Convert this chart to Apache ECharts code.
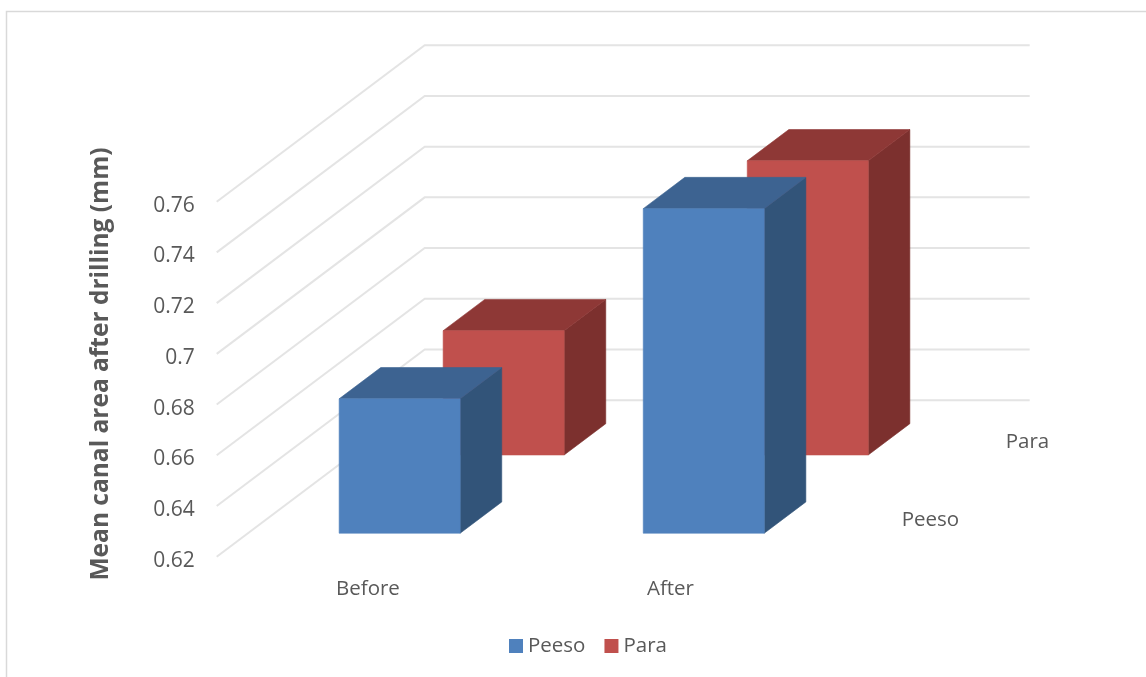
<!DOCTYPE html>
<html>
<head>
<meta charset="utf-8">
<style>html,body{margin:0;padding:0;background:#fff}#chart{width:1146px;height:677px}</style>
<script src="https://cdn.jsdelivr.net/npm/echarts@6/dist/echarts.min.js"></script>
</head>
<body>
<div id="chart"></div>
<script>
// Mean canal area before and after drilling, per instrument
var categories = ['Before', 'After'];
var peesoValues = [0.673, 0.748];
var paraValues = [0.669, 0.736];
var tickValues = [0.62, 0.64, 0.66, 0.68, 0.70, 0.72, 0.74, 0.76];

// Oblique projection: full floor depth on screen, and each row's place along it
var DEPTH_X = 208, DEPTH_Y = -156.5;
var BAR_WIDTH_RATIO = 0.4;
var BAR_NUDGE = 0.5, BAR_SPREAD = 1.6;
var PEESO_ROW = { front: 0.15, back: 0.35, labelAt: 0.25 };
var PARA_ROW = { front: 0.65, back: 0.85, labelAt: 0.75 };

function shift(pt, d) { return [pt[0] + DEPTH_X * d, pt[1] + DEPTH_Y * d]; }

function poly(points, fill) {
  return { type: 'polygon', shape: { points: points }, style: { fill: fill, stroke: fill, lineWidth: 0.6 } };
}

function boxRenderer(row, colors) {
  return function (params, api) {
    var cat = api.value(0), val = api.value(1);
    var half = api.size([1, 0])[0] * BAR_WIDTH_RATIO / 2;
    var top = api.coord([cat, val]), base = api.coord([cat, tickValues[0]]);
    var cx = top[0] + BAR_NUDGE + BAR_SPREAD * cat;
    var tl = [cx - half, top[1]], tr = [cx + half, top[1]];
    var bl = [cx - half, base[1]], br = [cx + half, base[1]];
    var f = row.front, b = row.back;
    return {
      type: 'group',
      children: [
        poly([shift(tr, f), shift(tr, b), shift(br, b), shift(br, f)], colors.side),
        poly([shift(tl, f), shift(tl, b), shift(tr, b), shift(tr, f)], colors.top),
        poly([shift(tl, f), shift(tr, f), shift(br, f), shift(bl, f)], colors.front)
      ]
    };
  };
}

// Left wall and back wall lines for one axis tick
function wallRenderer(params, api) {
  var band = api.size([1, 0])[0];
  var p = api.coord([0, api.value(0)]);
  var start = [p[0] - band / 2, p[1]];
  var corner = shift(start, 1);
  return {
    type: 'polyline',
    silent: true,
    shape: { points: [start, corner, [corner[0] + band * categories.length, corner[1]]] },
    style: { fill: null, stroke: '#e4e4e4', lineWidth: 2 }
  };
}

// Row names sit on the floor, just past the right edge of the plot
function rowLabelRenderer(row, text) {
  return function (params, api) {
    var band = api.size([1, 0])[0];
    var p = api.coord([categories.length - 1, tickValues[0]]);
    var at = shift([p[0] + band / 2 + 28, p[1]], row.labelAt);
    return {
      type: 'text',
      silent: true,
      style: {
        x: at[0], y: at[1] + 3, text: text,
        fill: '#595959', font: '20.5px "Open Sans"',
        textAlign: 'left', textVerticalAlign: 'middle'
      }
    };
  };
}

function pairs(values) {
  return values.map(function (v, i) { return [i, v]; });
}

var chart = echarts.init(document.getElementById('chart'), null, { renderer: 'canvas' });
chart.setOption({
  animation: false,
  backgroundColor: '#fff',
  textStyle: { fontFamily: '"Open Sans"' },
  grid: { left: 216.7, right: 324.3, top: 201.7, bottom: 120.3, containLabel: false },
  xAxis: {
    type: 'category',
    data: categories,
    axisLine: { show: false },
    axisTick: { show: false },
    axisLabel: { color: '#595959', fontSize: 20.5, margin: 22 }
  },
  yAxis: {
    type: 'value',
    min: 0.62,
    max: 0.76,
    interval: 0.02,
    axisLine: { show: false },
    axisTick: { show: false },
    splitLine: { show: false },
    axisLabel: { color: '#595959', fontSize: 21, margin: 22, verticalAlign: 'top', lineHeight: 8 }
  },
  legend: {
    data: ['Peeso', 'Para'],
    left: 509,
    top: 635.5,
    padding: 0,
    itemWidth: 14,
    itemHeight: 14,
    itemGap: 19,
    icon: 'rect',
    selectedMode: false,
    textStyle: { color: '#595959', fontSize: 20.5, padding: [0, 0, 0, 0] }
  },
  graphic: [
    {
      type: 'polyline',
      silent: true,
      shape: { points: [[6.5, 677], [6.5, 11.5], [1146, 11.5]] },
      style: { fill: null, stroke: '#d9d9d9', lineWidth: 1.5 }
    },
    {
      type: 'text',
      silent: true,
      x: 101,
      y: 364,
      rotation: Math.PI / 2,
      style: {
        text: 'Mean canal area after drilling (mm)',
        fill: '#595959',
        font: 'bold 24.5px "Open Sans"',
        textAlign: 'center',
        textVerticalAlign: 'middle'
      }
    }
  ],
  series: [
    {
      name: 'walls',
      type: 'custom',
      z: 1,
      silent: true,
      data: tickValues.map(function (v) { return [v]; }),
      encode: { y: 0 },
      renderItem: wallRenderer
    },
    {
      name: 'Para',
      type: 'custom',
      z: 2,
      itemStyle: { color: '#C0504D' },
      data: pairs(paraValues),
      encode: { x: 0, y: 1 },
      renderItem: boxRenderer(PARA_ROW, { front: '#C0504D', side: '#7C302E', top: '#8E3836' })
    },
    {
      name: 'Peeso',
      type: 'custom',
      z: 3,
      itemStyle: { color: '#4F81BD' },
      data: pairs(peesoValues),
      encode: { x: 0, y: 1 },
      renderItem: boxRenderer(PEESO_ROW, { front: '#4F81BD', side: '#325479', top: '#3D6391' })
    },
    {
      name: 'rowNames',
      type: 'custom',
      z: 4,
      silent: true,
      data: [[0]],
      renderItem: rowLabelRenderer(PEESO_ROW, 'Peeso')
    },
    {
      name: 'rowNames2',
      type: 'custom',
      z: 4,
      silent: true,
      data: [[0]],
      renderItem: rowLabelRenderer(PARA_ROW, 'Para')
    }
  ]
});
</script>
</body>
</html>
